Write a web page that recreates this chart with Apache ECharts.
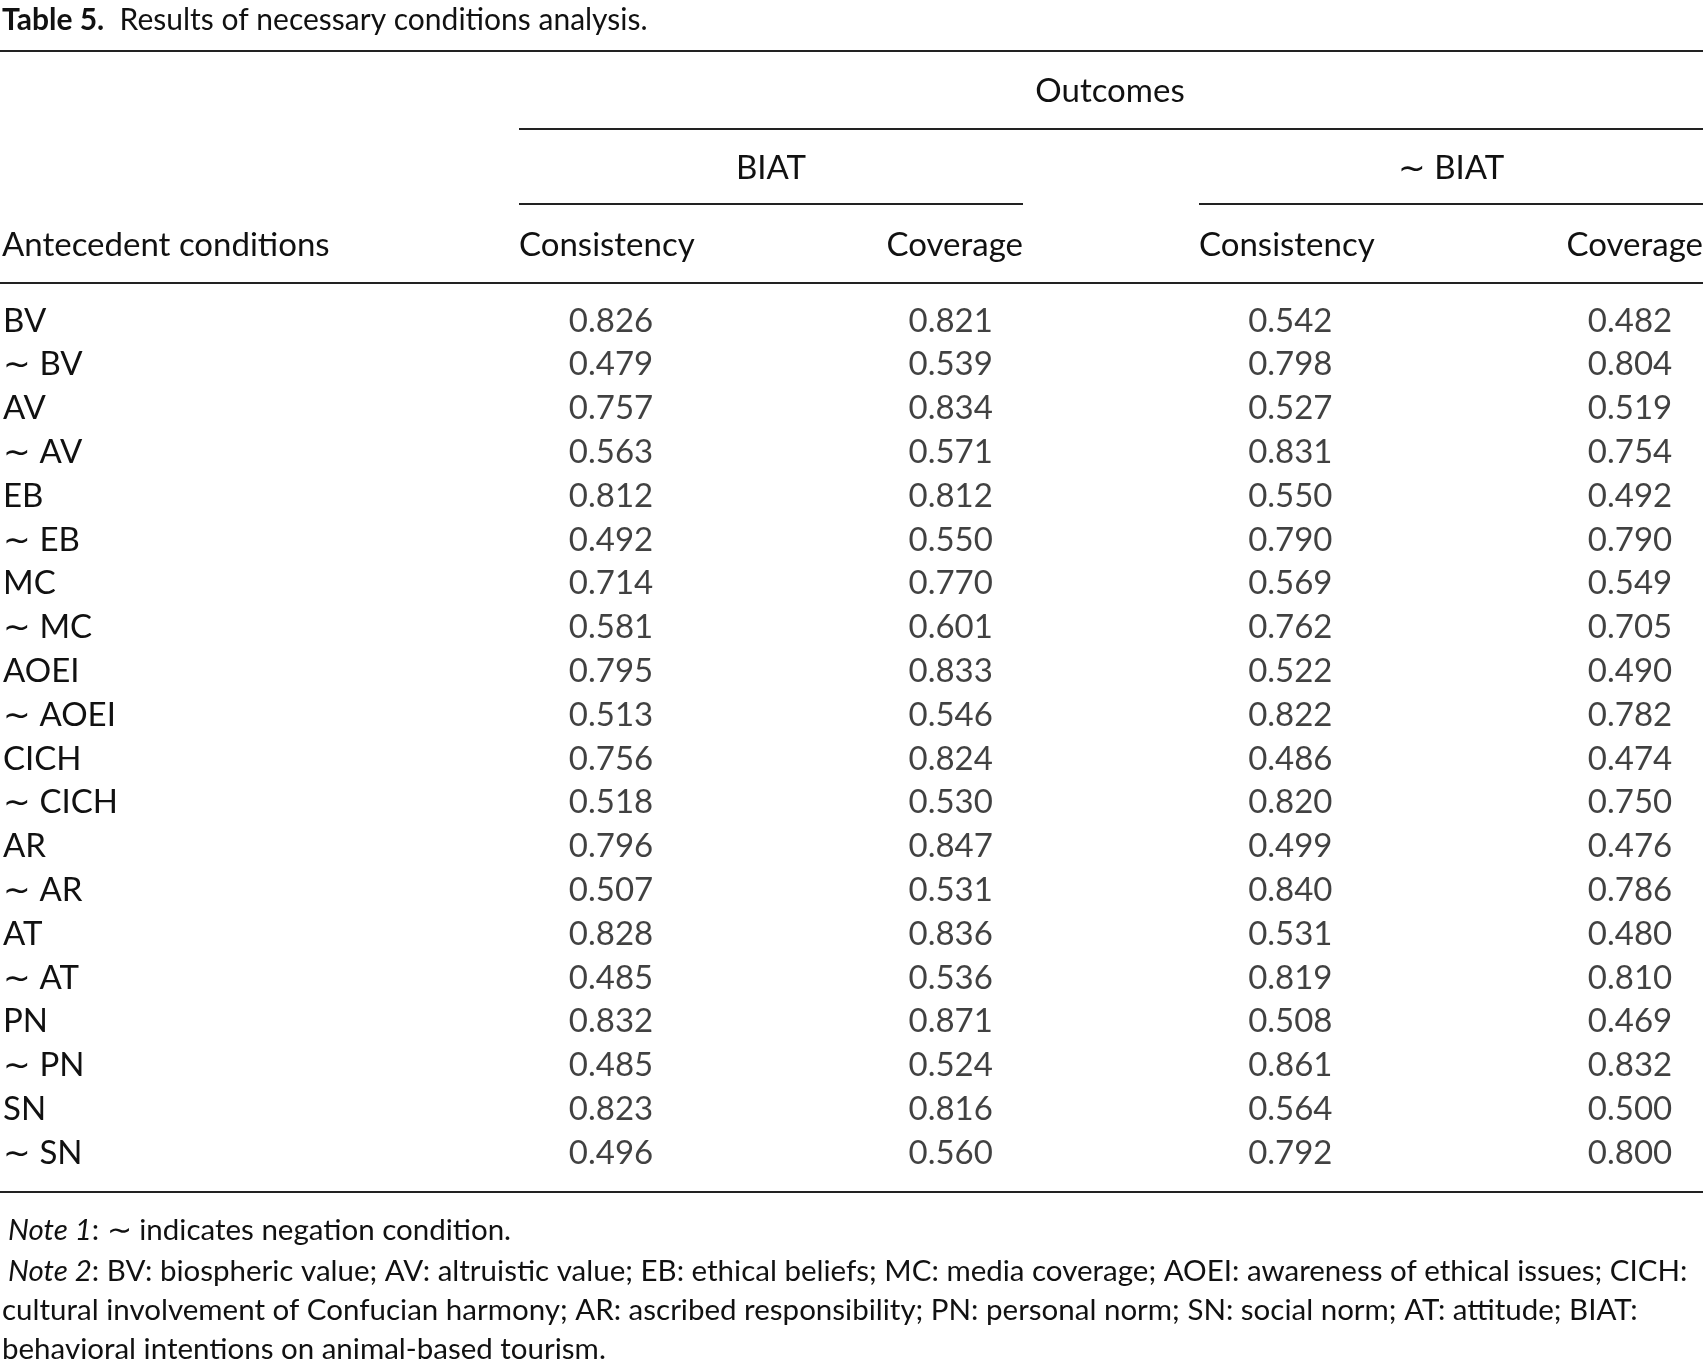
<!DOCTYPE html>
<html><head><meta charset="utf-8">
<script src="https://cdn.jsdelivr.net/npm/echarts@6/dist/echarts.min.js"></script>
<style>html,body{margin:0;padding:0;background:#fff}#c{width:1703px;height:1361px}</style>
</head><body><div id="c"></div>
<script>
var rows = ['BV','∼ BV','AV','∼ AV','EB','∼ EB','MC','∼ MC','AOEI','∼ AOEI','CICH','∼ CICH','AR','∼ AR','AT','∼ AT','PN','∼ PN','SN','∼ SN'];
var columns = ['BIAT Consistency','BIAT Coverage','~BIAT Consistency','~BIAT Coverage'];
var biatConsistency = ['0.826','0.479','0.757','0.563','0.812','0.492','0.714','0.581','0.795','0.513','0.756','0.518','0.796','0.507','0.828','0.485','0.832','0.485','0.823','0.496'];
var biatCoverage = ['0.821','0.539','0.834','0.571','0.812','0.550','0.770','0.601','0.833','0.546','0.824','0.530','0.847','0.531','0.836','0.536','0.871','0.524','0.816','0.560'];
var notBiatConsistency = ['0.542','0.798','0.527','0.831','0.550','0.790','0.569','0.762','0.522','0.822','0.486','0.820','0.499','0.840','0.531','0.819','0.508','0.861','0.564','0.792'];
var notBiatCoverage = ['0.482','0.804','0.519','0.754','0.492','0.790','0.549','0.705','0.490','0.782','0.474','0.750','0.476','0.786','0.480','0.810','0.469','0.832','0.500','0.800'];

var FONT = 'Lato';
var FS = 33;
var NFS = 29.5;
var cols = [biatConsistency, biatCoverage, notBiatConsistency, notBiatCoverage];
var cells = [];
cols.forEach(function (arr, ci) {
  arr.forEach(function (v, ri) { cells.push([ci, ri, v]); });
});

function txt(x, y, s, align) {
  return { type: 'text', x: x, y: y,
    style: { text: s, fill: '#111', font: FS + 'px ' + FONT, textAlign: align || 'left', textVerticalAlign: 'middle' } };
}
function line(x1, x2, y, w) {
  return { type: 'line', shape: { x1: x1, y1: y, x2: x2, y2: y }, style: { stroke: '#222', lineWidth: w || 2 } };
}
var rich = { i: { fontStyle: 'italic', fontSize: NFS, fontFamily: FONT, fill: '#111' }, n: { fontSize: NFS, fontFamily: FONT, fill: '#111' } };

var chart = echarts.init(document.getElementById('c'));
chart.setOption({
  animation: false,
  grid: { left: 610, right: 73, top: 299, height: 876 },
  xAxis: { type: 'category', data: columns, boundaryGap: false, show: false },
  yAxis: { type: 'category', data: rows, inverse: true,
    axisLine: { show: false }, axisTick: { show: false }, splitLine: { show: false },
    axisLabel: { align: 'left', margin: 608, color: '#111', fontSize: FS, fontFamily: FONT } },
  series: [{
    type: 'scatter', symbolSize: 0, data: cells,
    label: { show: true, position: 'inside', formatter: function (p) { return p.data[2]; },
      color: '#111', fontSize: FS, fontFamily: FONT }
  }],
  graphic: [
    { type: 'text', x: 2, y: 20, style: { textVerticalAlign: 'middle',
      rich: { b: { fontWeight: 'bold', fontSize: 30, fontFamily: FONT, fill: '#111' }, n: { fontSize: 30, fontFamily: FONT, fill: '#111' } },
      text: '{b|Table 5.}{n|  Results of necessary conditions analysis.}' } },
    line(0, 1703, 51),
    txt(1110, 91, 'Outcomes', 'center'),
    line(519, 1703, 129),
    txt(771, 168, 'BIAT', 'center'),
    txt(1451, 168, '∼ BIAT', 'center'),
    line(519, 1023, 204),
    line(1199, 1703, 204),
    txt(2, 245, 'Antecedent conditions'),
    txt(519, 245, 'Consistency'),
    txt(1023, 245, 'Coverage', 'right'),
    txt(1199, 245, 'Consistency'),
    txt(1703, 245, 'Coverage', 'right'),
    line(0, 1703, 283),
    line(0, 1703, 1192),
    { type: 'text', x: 8, y: 1230, style: { textVerticalAlign: 'middle', rich: rich,
      text: '{i|Note 1}{n|: ∼ indicates negation condition.}' } },
    { type: 'text', x: 8, y: 1271, style: { textVerticalAlign: 'middle', rich: rich,
      text: '{i|Note 2}{n|: BV: biospheric value; AV: altruistic value; EB: ethical beliefs; MC: media coverage; AOEI: awareness of ethical issues; CICH:}' } },
    { type: 'text', x: 2, y: 1310, style: { textVerticalAlign: 'middle', fontSize: NFS, fontFamily: FONT, fill: '#111',
      text: 'cultural involvement of Confucian harmony; AR: ascribed responsibility; PN: personal norm; SN: social norm; AT: attitude; BIAT:' } },
    { type: 'text', x: 2, y: 1349, style: { textVerticalAlign: 'middle', fontSize: NFS, fontFamily: FONT, fill: '#111',
      text: 'behavioral intentions on animal-based tourism.' } }
  ]
});
</script></body></html>
